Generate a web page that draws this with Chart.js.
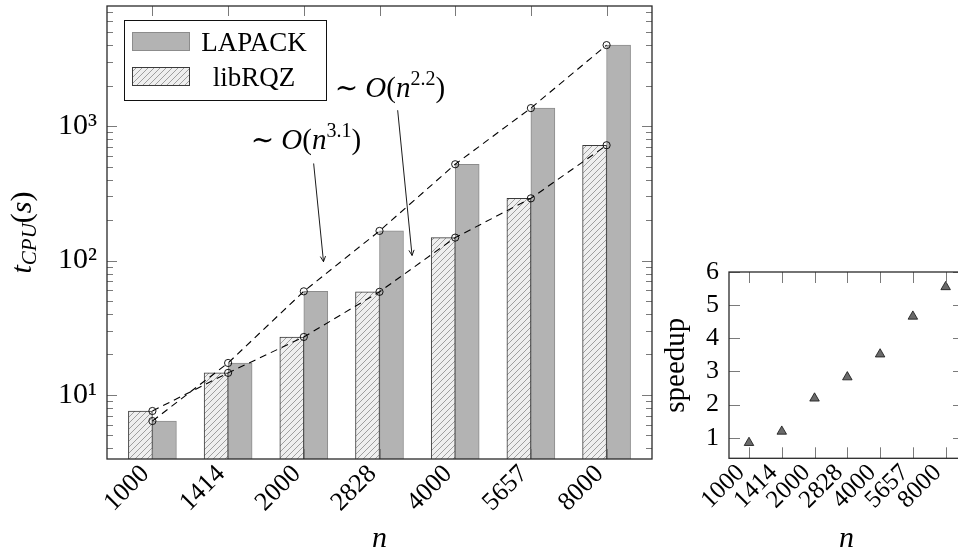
<!DOCTYPE html>
<html>
<head>
<meta charset="utf-8">
<style>
  html, body { margin: 0; padding: 0; background: #fff; width: 958px; height: 552px; overflow: hidden; }
  #main { position: absolute; left: 0; top: 0; }
  #speed { position: absolute; left: 640px; top: 230px; }
</style>
<script src="https://cdn.jsdelivr.net/npm/chart.js@4.4.1/dist/chart.umd.min.js"></script>
</head>
<body>
<canvas id="main" width="680" height="552"></canvas>
<canvas id="speed" width="340" height="322"></canvas>
<script>
const categories = ['1000', '1414', '2000', '2828', '4000', '5657', '8000'];
const lapack = [6.4, 17.3, 59, 166, 520, 1360, 4000];
const librqz = [7.6, 14.6, 27, 58.5, 148, 290, 720];
const speedup = [0.85, 1.19, 2.19, 2.83, 3.52, 4.66, 5.55];
const yTickValues = [10, 100, 1000];
const yTickText = ['10¹', '10²', '10³'];
const speedTicks = [1, 2, 3, 4, 5, 6];

// complexity notes, placed in data coords (x = category index, y = seconds)
const notes = [
  { exp: '3.1', tx: 1.30, ty: 673, x0: 2.13, y0: 527, x1: 2.26, y1: 98 },
  { exp: '2.2', tx: 2.41, ty: 1656, x0: 3.24, y0: 1312, x1: 3.43, y1: 109 }
];

const SERIF = "'Liberation Serif', 'DejaVu Serif', serif";
Chart.defaults.font.family = SERIF;
Chart.defaults.color = '#000';

function makeHatch() {
  const c = document.createElement('canvas');
  c.width = 6; c.height = 6;
  const g = c.getContext('2d');
  g.fillStyle = '#efefef';
  g.fillRect(0, 0, 6, 6);
  g.strokeStyle = '#8a8a8a';
  g.lineWidth = 0.8;
  g.beginPath();
  g.moveTo(-1, 7); g.lineTo(7, -1);
  g.moveTo(-1, 1); g.lineTo(1, -1);
  g.moveTo(5, 7); g.lineTo(7, 5);
  g.stroke();
  return g.createPattern(c, 'repeat');
}
const hatch = makeHatch();

// draw a run of text pieces (fonts / baseline shifts) one after another
function pieces(ctx, parts, x, y, align) {
  let w = 0;
  parts.forEach(p => { ctx.font = p.f; w += ctx.measureText(p.t).width; });
  let cx = align === 'center' ? x - w / 2 : x;
  ctx.textAlign = 'left';
  ctx.textBaseline = 'alphabetic';
  parts.forEach(p => {
    ctx.font = p.f;
    ctx.fillText(p.t, cx, y + (p.dy || 0));
    cx += ctx.measureText(p.t).width;
  });
}

function arrow(ctx, x0, y0, x1, y1) {
  const ang = Math.atan2(y1 - y0, x1 - x0), L = 6;
  ctx.beginPath();
  ctx.moveTo(x0, y0);
  ctx.lineTo(x1, y1);
  ctx.moveTo(x1 - L * Math.cos(ang - 0.45), y1 - L * Math.sin(ang - 0.45));
  ctx.lineTo(x1, y1);
  ctx.lineTo(x1 - L * Math.cos(ang + 0.45), y1 - L * Math.sin(ang + 0.45));
  ctx.stroke();
}

function xTicks(ctx, a, x, len) {
  categories.forEach((c, i) => {
    const px = Math.round(x.getPixelForValue(i)) + 0.5;
    ctx.moveTo(px, a.top); ctx.lineTo(px, a.top + len);
    ctx.moveTo(px, a.bottom); ctx.lineTo(px, a.bottom - len);
  });
}

function yTick(ctx, a, py, len) {
  py = Math.round(py) + 0.5;
  ctx.moveTo(a.left, py); ctx.lineTo(a.left + len, py);
  ctx.moveTo(a.right, py); ctx.lineTo(a.right - len, py);
}

const mainDecor = {
  id: 'mainDecor',
  afterDatasetsDraw(chart) {
    const { ctx, chartArea: a, scales: { x, y } } = chart;
    ctx.save();
    ctx.fillStyle = '#000';
    ctx.strokeStyle = '#000';
    ctx.lineWidth = 0.9;
    notes.forEach(n => {
      pieces(ctx, [
        { t: '∼ ', f: `28px ${SERIF}` },
        { t: 'O', f: `italic 29px ${SERIF}` },
        { t: '(', f: `29px ${SERIF}` },
        { t: 'n', f: `italic 29px ${SERIF}` },
        { t: n.exp, f: `20px ${SERIF}`, dy: -12 },
        { t: ')', f: `29px ${SERIF}` }
      ], x.getPixelForValue(n.tx), y.getPixelForValue(n.ty), 'left');
      arrow(ctx, x.getPixelForValue(n.x0), y.getPixelForValue(n.y0),
                 x.getPixelForValue(n.x1), y.getPixelForValue(n.y1));
    });

    // legend box (LAPACK first, as in the figure)
    const lx = a.left + 17, ly = a.top + 14;
    ctx.fillStyle = '#fff';
    ctx.fillRect(lx, ly, 202, 80);
    ctx.lineWidth = 1;
    ctx.strokeStyle = '#111';
    ctx.strokeRect(lx + 0.5, ly + 0.5, 202, 80);
    const rows = [chart.data.datasets[1], chart.data.datasets[0]];
    rows.forEach((ds, k) => {
      const sy = ly + 12 + k * 35;
      ctx.fillStyle = ds.backgroundColor;
      ctx.fillRect(lx + 8, sy, 57, 18);
      ctx.strokeStyle = ds.borderColor;
      ctx.strokeRect(lx + 8.5, sy + 0.5, 57, 18);
      ctx.fillStyle = '#000';
      ctx.font = `27px ${SERIF}`;
      ctx.textAlign = 'center';
      ctx.textBaseline = 'alphabetic';
      ctx.fillText(ds.label, lx + 130, sy + 19);
    });
    ctx.restore();
  },
  afterDraw(chart) {
    const { ctx, chartArea: a, scales: { x, y } } = chart;
    ctx.save();
    ctx.strokeStyle = '#7a7a7a';
    ctx.lineWidth = 1;
    ctx.beginPath();
    xTicks(ctx, a, x, 10);
    const e0 = Math.floor(Math.log10(y.min)), e1 = Math.ceil(Math.log10(y.max));
    for (let e = e0; e <= e1; e++) {
      for (let m = 1; m <= 9; m++) {
        const v = m * Math.pow(10, e);
        if (v < y.min || v > y.max) continue;
        yTick(ctx, a, y.getPixelForValue(v), m === 1 ? 10 : 6);
      }
    }
    ctx.stroke();
    ctx.strokeStyle = '#2a2a2a';
    ctx.lineWidth = 1.3;
    ctx.strokeRect(a.left, a.top, a.right - a.left, a.bottom - a.top);

    ctx.fillStyle = '#000';
    pieces(ctx, [{ t: 'n', f: `italic 30px ${SERIF}` }], (a.left + a.right) / 2, 547, 'center');
    ctx.translate(31, (a.top + a.bottom) / 2);
    ctx.rotate(-Math.PI / 2);
    pieces(ctx, [
      { t: 't', f: `italic 30px ${SERIF}` },
      { t: 'CPU', f: `italic 21px ${SERIF}`, dy: 5 },
      { t: '(', f: `30px ${SERIF}` },
      { t: 's', f: `italic 30px ${SERIF}` },
      { t: ')', f: `30px ${SERIF}` }
    ], 0, 0, 'center');
    ctx.restore();
  }
};

const speedDecor = {
  id: 'speedDecor',
  afterDraw(chart) {
    const { ctx, chartArea: a, scales: { x, y } } = chart;
    ctx.save();
    ctx.strokeStyle = '#7a7a7a';
    ctx.lineWidth = 1;
    ctx.beginPath();
    xTicks(ctx, a, x, 11);
    speedTicks.forEach(v => yTick(ctx, a, y.getPixelForValue(v), 11));
    ctx.stroke();
    ctx.strokeStyle = '#2a2a2a';
    ctx.lineWidth = 1.3;
    ctx.strokeRect(a.left, a.top, a.right - a.left, a.bottom - a.top);

    ctx.fillStyle = '#000';
    pieces(ctx, [{ t: 'n', f: `italic 30px ${SERIF}` }], (a.left + a.right) / 2, 317, 'center');
    ctx.translate(44, (a.top + a.bottom) / 2);
    ctx.rotate(-Math.PI / 2);
    pieces(ctx, [{ t: 'speedup', f: `29px ${SERIF}` }], 0, 0, 'center');
    ctx.restore();
  }
};

const pts = arr => arr.map((v, i) => ({ x: i, y: v }));

new Chart(document.getElementById('main'), {
  type: 'bar',
  data: {
    datasets: [
      { label: 'libRQZ', data: pts(librqz), backgroundColor: hatch, borderColor: '#3a3a3a',
        borderWidth: 1, barThickness: 24, order: 2 },
      { label: 'LAPACK', data: pts(lapack), backgroundColor: '#b3b3b3', borderColor: '#8c8c8c',
        borderWidth: 1, barThickness: 24, order: 2 },
      { type: 'line', label: 'LAPACK trend', data: pts(lapack), borderColor: '#000', borderWidth: 1.1,
        borderDash: [7, 5], fill: false, tension: 0, pointStyle: 'circle', pointRadius: 3.6,
        pointBackgroundColor: 'rgba(0,0,0,0)', pointBorderColor: '#000', pointBorderWidth: 0.9, order: 0 },
      { type: 'line', label: 'libRQZ trend', data: pts(librqz), borderColor: '#000', borderWidth: 1.1,
        borderDash: [7, 5], fill: false, tension: 0, pointStyle: 'circle', pointRadius: 3.6,
        pointBackgroundColor: 'rgba(0,0,0,0)', pointBorderColor: '#000', pointBorderWidth: 0.9, order: 0 }
    ]
  },
  options: {
    responsive: false,
    devicePixelRatio: 1,
    animation: false,
    layout: { padding: { top: 6, right: 28, left: 0, bottom: 0 } },
    plugins: { legend: { display: false }, tooltip: { enabled: false } },
    scales: {
      x: {
        type: 'linear', min: -0.6, max: 6.6, offset: false,
        grid: { display: false, drawTicks: false }, border: { display: false },
        ticks: {
          stepSize: 1, includeBounds: false, autoSkip: false, minRotation: 45, maxRotation: 45,
          padding: 0, labelOffset: -7, font: { size: 26 }, color: '#000',
          callback: v => categories[Math.round(v)] ?? ''
        },
        afterFit: s => { s.height = 93; s.paddingLeft = 0; s.paddingRight = 0; }
      },
      y: {
        type: 'logarithmic', min: 3.34, max: 7816,
        grid: { display: false, drawTicks: false }, border: { display: false },
        ticks: {
          autoSkip: false, padding: 10, font: { size: 30 }, color: '#000',
          callback: v => {
            const k = yTickValues.findIndex(t => Math.abs(t - v) < 1e-6 * t);
            return k < 0 ? '' : yTickText[k];
          }
        },
        afterFit: s => { s.width = 107; s.paddingTop = 0; s.paddingBottom = 0; }
      }
    }
  },
  plugins: [mainDecor]
});

new Chart(document.getElementById('speed'), {
  type: 'scatter',
  data: {
    datasets: [
      { label: 'speedup', data: pts(speedup), pointStyle: 'triangle', pointRadius: 5.5,
        pointBackgroundColor: '#6a6a6a', pointBorderColor: '#111', pointBorderWidth: 0.8 }
    ]
  },
  options: {
    responsive: false,
    devicePixelRatio: 1,
    animation: false,
    layout: { padding: { top: 42, right: 16, left: 0, bottom: 0 } },
    plugins: { legend: { display: false }, tooltip: { enabled: false } },
    scales: {
      x: {
        type: 'linear', min: -0.61, max: 6.56, offset: false,
        grid: { display: false, drawTicks: false }, border: { display: false },
        ticks: {
          stepSize: 1, includeBounds: false, autoSkip: false, minRotation: 45, maxRotation: 45,
          padding: 0, labelOffset: -8, font: { size: 25 }, color: '#000',
          callback: v => categories[Math.round(v)] ?? ''
        },
        afterFit: s => { s.height = 93.7; s.paddingLeft = 0; s.paddingRight = 0; }
      },
      y: {
        type: 'linear', min: 0.38, max: 6,
        grid: { display: false, drawTicks: false }, border: { display: false },
        ticks: {
          stepSize: 1, includeBounds: false, autoSkip: false, padding: 10,
          font: { size: 26 }, color: '#000',
          callback: v => speedTicks.includes(v) ? String(v) : ''
        },
        afterFit: s => { s.width = 89; s.paddingTop = 0; s.paddingBottom = 0; }
      }
    }
  },
  plugins: [speedDecor]
});
</script>
</body>
</html>
